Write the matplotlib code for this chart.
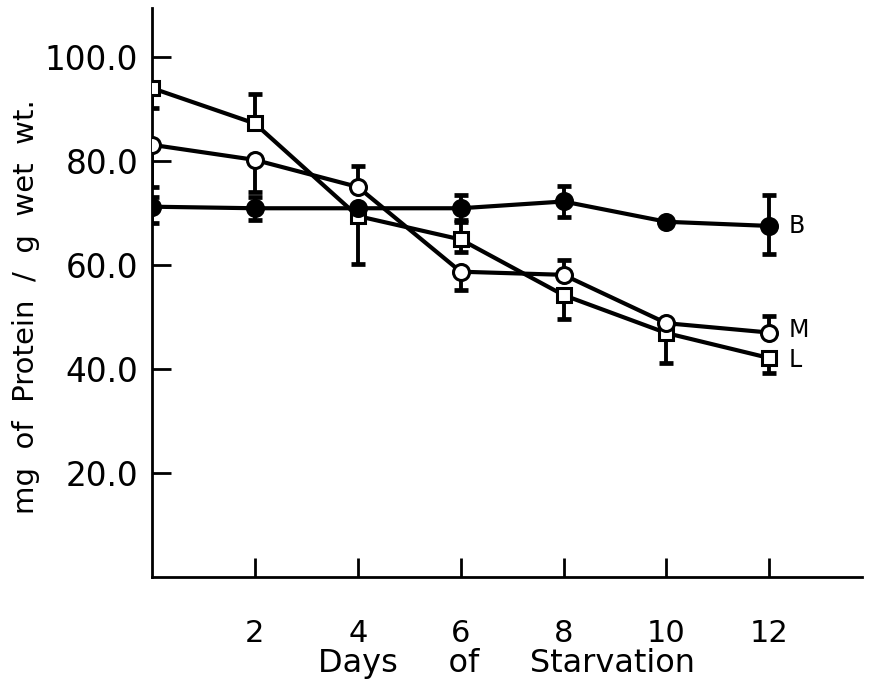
import numpy as np
import matplotlib
matplotlib.use("Agg")
import matplotlib.pyplot as plt

plt.rcParams['font.family'] = ['DejaVu Sans']

# Days of starvation
days = [0, 2, 4, 6, 8, 10, 12]

# Protein content (mg / g wet wt.) for the three tissues
b_vals = [71.2, 70.9, 70.9, 70.9, 72.2, 68.3, 67.5]
m_vals = [83.1, 80.2, 75.0, 58.7, 58.1, 48.8, 47.0]
l_vals = [94.0, 87.2, 69.4, 64.9, 54.2, 46.9, 42.1]

# Error bar extents below / above each mean (0 = no bar drawn)
b_lo = [3.2, 2.2, 0.0, 2.2, 3.0, 0.0, 5.3]
b_hi = [1.9, 2.2, 0.0, 2.6, 2.9, 0.0, 6.0]
m_lo = [8.1, 6.1, 0.0, 3.6, 0.0, 0.0, 0.0]
m_hi = [0.0, 0.0, 4.0, 0.0, 2.9, 0.0, 3.2]
l_lo = [3.9, 0.0, 9.3, 2.5, 4.6, 5.7, 2.9]
l_hi = [0.0, 5.7, 0.0, 3.4, 0.0, 0.0, 0.0]

series_labels = ["B", "M", "L"]
x_ticks = [2, 4, 6, 8, 10, 12]
y_ticks = [20, 40, 60, 80, 100]
y_tick_labels = ["20.0", "40.0", "60.0", "80.0", "100.0"]

fig = plt.figure(figsize=(8.79, 6.79), dpi=100)
ax = fig.add_axes([0.1729, 0.1502, 0.8077, 0.838])

LW = 3.0


def error_bars(x, y, lo, hi):
    x = np.asarray(x, float)
    y = np.asarray(y, float)
    lo = np.asarray(lo, float)
    hi = np.asarray(hi, float)
    for ext, sign in ((lo, -1), (hi, 1)):
        sel = ext > 0
        if not sel.any():
            continue
        ends = y[sel] + sign * ext[sel]
        ax.vlines(x[sel], y[sel], ends, colors="black", linewidth=2.8, zorder=2)
        ax.plot(x[sel], ends, linestyle="none", marker="_", markersize=9.5,
                markeredgewidth=3.4, color="black", zorder=2)


def series(x, y, lo, hi, marker, face, ms):
    error_bars(x, y, lo, hi)
    ax.plot(x, y, color="black", linewidth=LW, zorder=3)
    ax.plot(x, y, linestyle="none", marker=marker, markersize=ms,
            markerfacecolor=face, markeredgecolor="black",
            markeredgewidth=2.2, zorder=4)


series(days, l_vals, l_lo, l_hi, "s", "white", 10.0)
series(days, m_vals, m_lo, m_hi, "o", "white", 11.5)
series(days, b_vals, b_lo, b_hi, "o", "black", 11.5)

# Curve labels at the right end of each series
label_y = [b_vals[-1], m_vals[-1] + 0.5, l_vals[-1] - 0.4]
for name, yv in zip(series_labels, label_y):
    ax.text(days[-1] + 0.38, yv, name, fontsize=17, va="center", ha="left")

ax.set_xlim(0, 13.8)
ax.set_ylim(0, 109.4)

for side in ("top", "right"):
    ax.spines[side].set_visible(False)
for side in ("left", "bottom"):
    ax.spines[side].set_linewidth(2.0)

ax.set_xticks(x_ticks)
ax.set_xticklabels([str(v) for v in x_ticks])
ax.set_yticks(y_ticks)
ax.set_yticklabels(y_tick_labels)
ax.tick_params(axis="both", direction="in", length=14, width=2.0)
ax.tick_params(axis="x", pad=30, labelsize=22)
ax.tick_params(axis="y", pad=10, labelsize=23.5)

ax.set_xlabel("Days     of     Starvation", fontsize=23)
ax.xaxis.set_label_coords(0.5, -0.124)
ax.set_ylabel("mg  of  Protein  /  g  wet  wt.", fontsize=21)
ax.yaxis.set_label_coords(-0.158, 0.475)

fig.savefig("out.png", dpi=100)
